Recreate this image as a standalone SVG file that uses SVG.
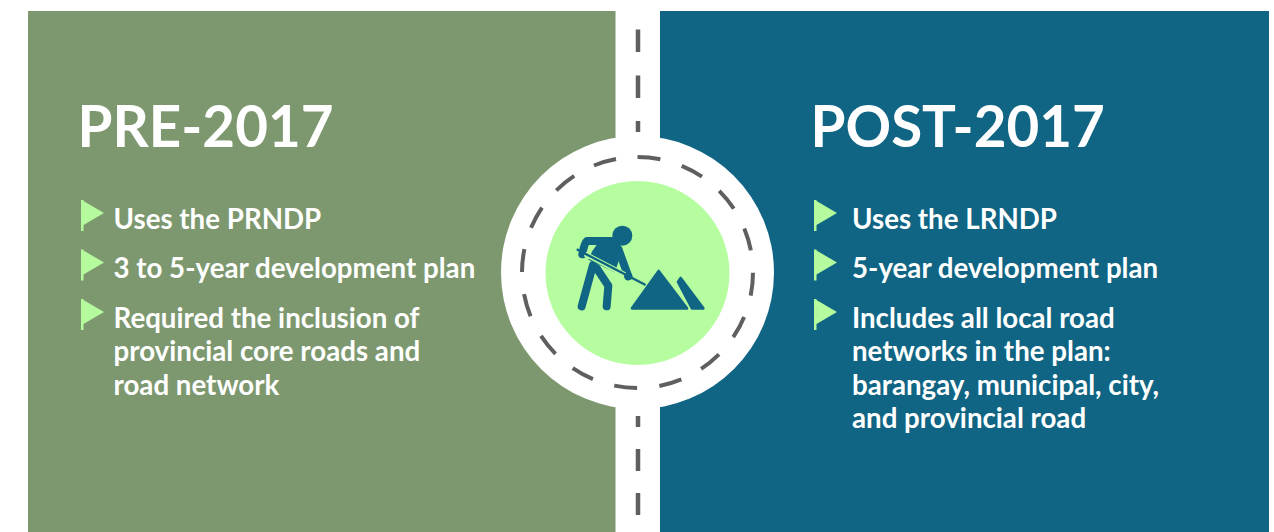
<svg xmlns="http://www.w3.org/2000/svg" width="1274" height="532" viewBox="0 0 1274 532">
<style>
.h{font-family:Lato,"Liberation Sans",sans-serif;font-weight:700;font-size:56.500px;fill:#fff}
.t{font-family:Lato,"Liberation Sans",sans-serif;font-weight:700;font-size:27.700px;fill:#fff}
.f{fill:#b5fb9d}
.d{stroke:#5f5f5f;stroke-width:4.500;fill:none}
.r{stroke:#5f5f5f;stroke-width:4;fill:none}
.i{fill:none;stroke:#0f6583;stroke-linecap:round;stroke-linejoin:round}
</style>
<defs><path id="flag" d="M0 0h2.500v1L23 13L2.500 25v6h-2.500z"/></defs>
<rect width="1274" height="532" fill="#fff"/>
<g id="left-panel">
<rect x="28" y="11" width="587.500" height="521" fill="#7d986f"/>
<text class="h" x="77.500" y="146.500">PRE-2017</text>
<use href="#flag" class="f" x="81" y="200"/><use href="#flag" class="f" x="81" y="249.500"/><use href="#flag" class="f" x="81" y="299"/>
<text class="t" x="113.500" y="228.500">Uses the PRNDP</text>
<text class="t" x="113.500" y="277.500">3 to 5-year development plan</text>
<text class="t" x="113.500" y="327.500">Required the inclusion of</text>
<text class="t" x="113.500" y="360.500">provincial core roads and</text>
<text class="t" x="113.500" y="394.500">road network</text>
</g>
<g id="right-panel">
<rect x="660" y="11" width="609" height="521" fill="#0f6583"/>
<text class="h" x="810.500" y="146.500">POST-2017</text>
<use href="#flag" class="f" x="814" y="200"/><use href="#flag" class="f" x="814" y="249.500"/><use href="#flag" class="f" x="814" y="299"/>
<text class="t" x="852" y="228.500">Uses the LRNDP</text>
<text class="t" x="852" y="277.500">5-year development plan</text>
<text class="t" x="852" y="327.500">Includes all local road</text>
<text class="t" x="852" y="360.500">networks in the plan:</text>
<text class="t" x="852" y="394.500">barangay, municipal, city,</text>
<text class="t" x="852" y="427.500">and provincial road</text>
</g>
<g id="road">
<circle cx="637.500" cy="272.500" r="136.500" fill="#fff"/>
<path class="d" d="M638 29.500V52M638 75.500V98M638 121V132M638 416V427M638 449V471M638 493V515"/>
<circle cx="637.500" cy="272.500" r="115.500" class="r" stroke-dasharray="23 22.360" transform="rotate(-90 637.500 272.500)"/>
<circle cx="637.500" cy="273" r="92" fill="#b5fd9f"/>
</g>
<g id="worker" transform="translate(565 215) scale(.3333)">
<circle cx="172" cy="62" r="30" fill="#0f6583"/>
<path class="i" stroke-width="24" d="M132 78H66Q58 84 52 118"/>
<path class="i" stroke-width="24" d="M160 102L190 184"/>
<path class="i" stroke-width="24" d="M84 150L50 274"/>
<path class="i" stroke-width="24" d="M95 160L130 212L125 274"/>
<path d="M112 66H148L172 104L150 172L70 134L82 108Z" fill="#0f6583"/>
<path d="M60 117L180 179" stroke="#b5fd9f" stroke-width="15" fill="none"/>
<path d="M35 103L242 210" stroke="#0f6583" stroke-width="7" fill="none"/>
<circle cx="190" cy="184" r="12" fill="#0f6583"/>
<path class="i" stroke-width="8" style="fill:#0f6583" d="M281 168L366 280H201Z"/>
<path class="i" stroke-width="8" style="fill:#0f6583" d="M347 189L415 280H381L339 201Z"/>
</g>
</svg>
